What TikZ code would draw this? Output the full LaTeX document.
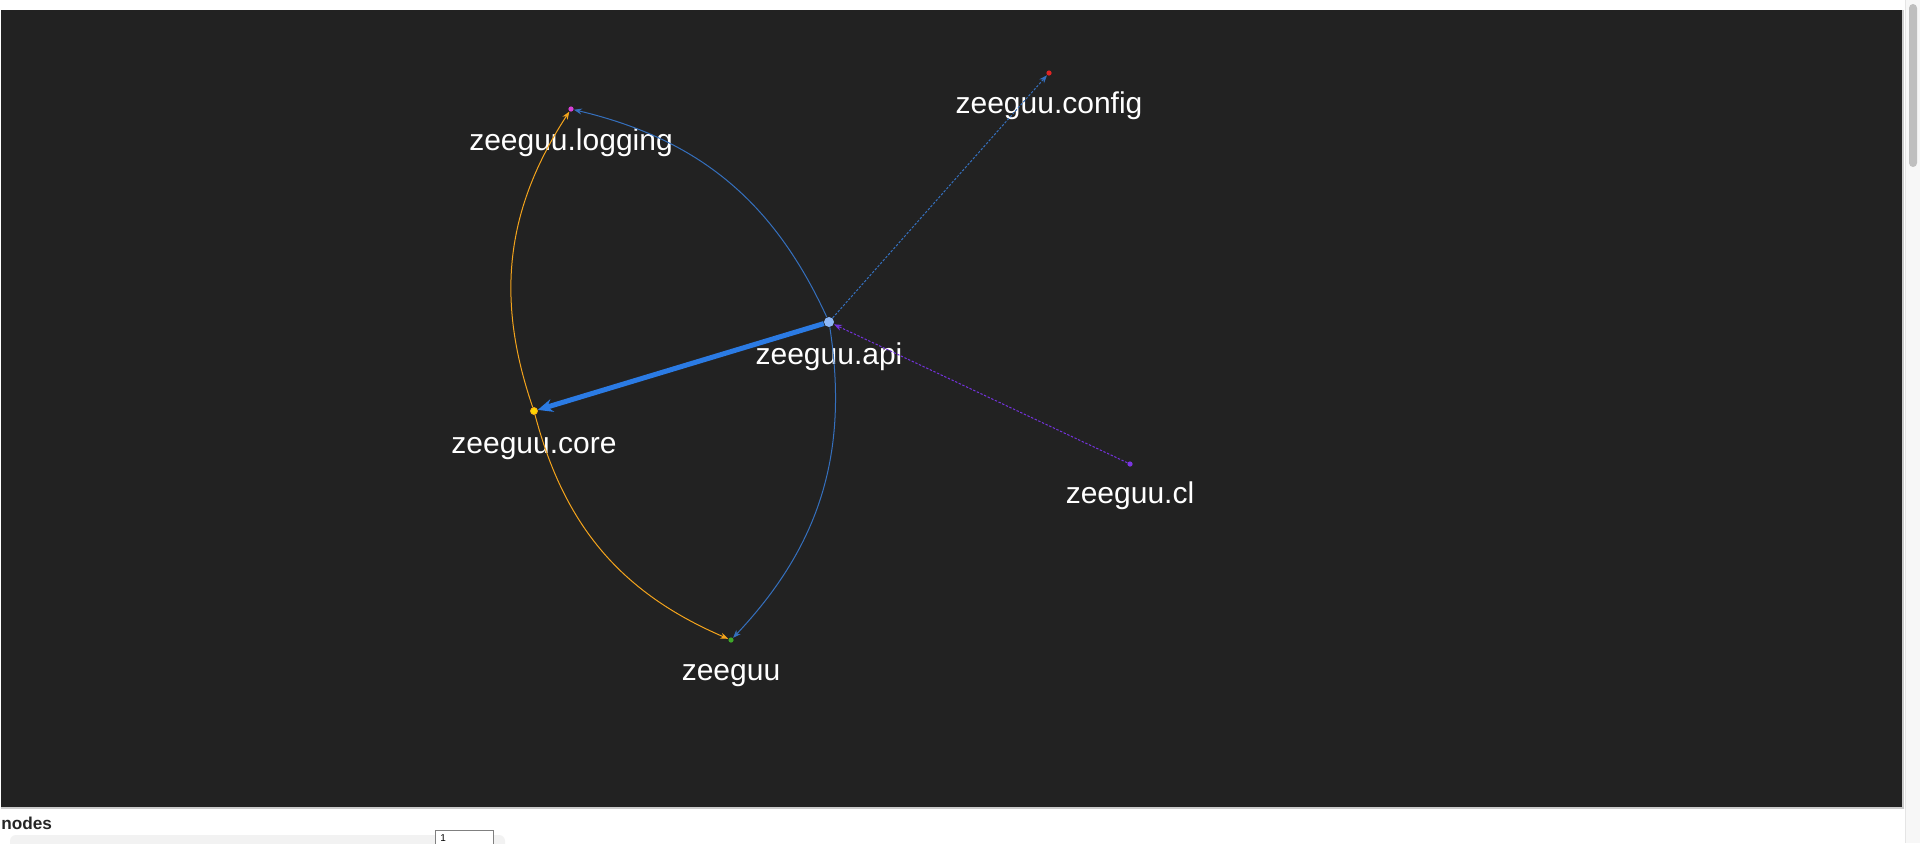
\documentclass[tikz,border=0pt]{standalone}
\usepackage{fontspec}
\setmainfont{Liberation Sans}
\usetikzlibrary{arrows.meta}
\definecolor{panel}{HTML}{222222}
\definecolor{linkblue}{HTML}{2B7BE4}
\definecolor{thinblue}{HTML}{3570BE}
\definecolor{linkorange}{HTML}{F4A41C}
\definecolor{linkpurple}{HTML}{7433DD}
\definecolor{apidot}{HTML}{8DB8F8}
\definecolor{coredot}{HTML}{FFD400}
\definecolor{logdot}{HTML}{D640D6}
\definecolor{cfgdot}{HTML}{E02424}
\definecolor{cldot}{HTML}{7A35E0}
\definecolor{rootdot}{HTML}{3FA82A}
\begin{document}
\begin{tikzpicture}[x=0.5pt,y=0.5pt,
    dot/.style={circle,inner sep=0pt,minimum size=2.6pt},
    lbl/.style={text=white,anchor=base,font=\fontsize{15pt}{18pt}\selectfont},
    dep/.style={-{Stealth[length=4pt,width=3pt]},line width=0.5pt},
    faint/.style={dep,dash pattern=on 1.2pt off 0.8pt},
  ]
  \useasboundingbox (0,0) rectangle (1920,-843);
  \clip (0,0) rectangle (1920,-843);
  \fill[white] (0,0) rectangle (1920,-843);
  % scroll bar
  \fill[black!3] (1905,0) rectangle (1920,-843);
  \draw[black!10,line width=0.5pt] (1905,0) -- (1905,-843);
  \fill[black!25,rounded corners=2pt] (1909,-4) rectangle (1917,-167);
  % graph panel
  \draw[panel,fill=panel] (1,-10) rectangle (1903,-807);
  \draw[black!20,line width=0.6pt] (1,-808) -- (1903,-808) -- (1903,-10);
  % modules
  \node[dot,fill=apidot,minimum size=5pt] (api) at (829,-322) {};
  \node[dot,fill=coredot,draw=linkorange,line width=0.3pt,minimum size=3.6pt] (core) at (534,-411) {};
  \node[dot,fill=logdot] (logging) at (571,-109) {};
  \node[dot,fill=cfgdot] (config) at (1049,-73) {};
  \node[dot,fill=cldot] (cl) at (1130,-464) {};
  \node[dot,fill=rootdot] (zeeguu) at (731,-640) {};
  % names
  \node[lbl] (api-name) at (829,-364) {zeeguu.api};
  \node[lbl] (core-name) at (534,-453) {zeeguu.core};
  \node[lbl] (logging-name) at (571,-150) {zeeguu.logging};
  \node[lbl] (config-name) at (1049,-113) {zeeguu.config};
  \node[lbl] (cl-name) at (1130,-503) {zeeguu.cl};
  \node[lbl] (zeeguu-name) at (731,-680) {zeeguu};
  % imports
  \draw[dep,thinblue] (api) to[bend right=26] (logging);
  \draw[dep,thinblue] (api) to[bend left=26] (zeeguu);
  \draw[dep,linkorange] (core) to[bend left=26] (logging);
  \draw[dep,linkorange] (core) to[bend right=26] (zeeguu);
  \draw[faint,thinblue] (api) -- (config);
  \draw[faint,linkpurple] (cl) -- (api);
  \draw[linkblue,line width=2.5pt,-{Stealth[length=7.5pt,width=6.5pt,inset=2.5pt]}] (api) -- (core);
  % controls below the panel
  \node[anchor=base west,inner sep=0pt,font=\bfseries\fontsize{8.6pt}{10pt}\selectfont,text=black!85] (nodes-title) at (1,-829) {nodes};
  \fill[black!5,rounded corners=3pt] (10,-835) rectangle (505,-880);
  \draw[black!20,line width=2pt] (135,-850) -- (432,-850);
  \node[circle,fill=linkblue!80!black,inner sep=0pt,minimum size=8pt] (slider-knob) at (172,-852) {};
  \draw[black!50,fill=white,line width=0.5pt] (435,-830) rectangle (493,-880);
  \node[anchor=north west,inner sep=0pt,font=\fontsize{5pt}{6pt}\selectfont] (level-box) at (440,-834) {1};
\end{tikzpicture}
\end{document}
